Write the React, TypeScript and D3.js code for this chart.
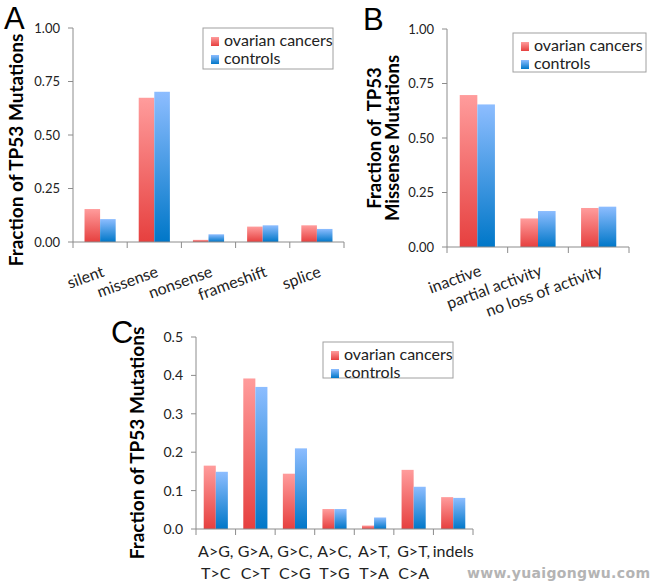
import React from "react";
import * as d3 from "d3";

const seriesNames = ["ovarian cancers", "controls"];

const catsA = ["silent", "missense", "nonsense", "frameshift", "splice"];
const ovarianA = [0.154, 0.674, 0.01, 0.072, 0.078];
const controlsA = [0.107, 0.702, 0.036, 0.078, 0.061];
const ticksA = [0, 0.25, 0.5, 0.75, 1];

const catsB = ["inactive", "partial activity", "no loss of activity"];
const ovarianB = [0.697, 0.131, 0.179];
const controlsB = [0.654, 0.165, 0.185];
const ticksB = [0, 0.25, 0.5, 0.75, 1];

const catsC = [["A>G,", "T>C"], ["G>A,", "C>T"], ["G>C,", "C>G"], ["A>C,", "T>G"], ["A>T,", "T>A"], ["G>T,", "C>A"], ["indels", ""]];
const ovarianC = [0.165, 0.392, 0.144, 0.052, 0.009, 0.154, 0.083];
const controlsC = [0.149, 0.37, 0.21, 0.052, 0.03, 0.11, 0.081];
const ticksC = [0, 0.1, 0.2, 0.3, 0.4, 0.5];

const FONT = "Lato, 'Open Sans', sans-serif";
const AXIS = "#8c8c8c";
const TXT = "#222";

type PanelProps = {
  id: string;
  cats: string[];
  catLabels: (string | string[])[];
  s1: number[];
  s2: number[];
  ticks: number[];
  fmt: string;
  x0: number; x1: number; yTop: number; yBottom: number;
  groupFrac: number;
  tickFont: number;
  labelMode: "rot" | "two";
  rotDy: number;
  legend: { x: number; y: number; w: number; h: number; fs: number };
};

function Panel(p: PanelProps) {
  const x = d3.scaleBand<string>().domain(p.cats).range([p.x0, p.x1]).paddingInner(0).paddingOuter(0);
  const y = d3.scaleLinear().domain([p.ticks[0], p.ticks[p.ticks.length - 1]]).range([p.yBottom, p.yTop]);
  const bw = x.bandwidth();
  const inner = d3.scaleBand<string>().domain(seriesNames).range([0, bw * p.groupFrac]);
  const off = (bw - bw * p.groupFrac) / 2;
  const f = d3.format(p.fmt);
  const boundaries = p.cats.map((c) => x(c) as number).concat([p.x1]);
  const vals = [p.s1, p.s2];
  const fills = ["url(#gradRed)", "url(#gradBlue)"];
  return (
    <g>
      {p.cats.map((c, i) =>
        vals.map((v, s) => (
          <rect key={c + s}
            x={(x(c) as number) + off + (inner(seriesNames[s]) as number)}
            y={y(v[i])}
            width={inner.bandwidth()}
            height={p.yBottom - y(v[i])}
            fill={fills[s]} />
        ))
      )}
      <line x1={p.x0} x2={p.x0} y1={p.yTop} y2={p.yBottom} stroke={AXIS} strokeWidth={1} />
      <line x1={p.x0} x2={p.x1} y1={p.yBottom} y2={p.yBottom} stroke={AXIS} strokeWidth={1} />
      {p.ticks.map((t) => (
        <g key={t}>
          <line x1={p.x0 - 5} x2={p.x0} y1={y(t)} y2={y(t)} stroke={AXIS} />
          <text x={p.x0 - 13} y={y(t)} dy="0.35em" textAnchor="end" fontSize={p.tickFont} fontFamily={FONT} fill={TXT}>{f(t)}</text>
        </g>
      ))}
      {boundaries.map((b, i) => (
        <line key={i} x1={b} x2={b} y1={p.yBottom} y2={p.yBottom + 6} stroke={AXIS} />
      ))}
      {p.cats.map((c, i) => {
        const cx = (x(c) as number) + bw / 2;
        const lab = p.catLabels[i];
        if (p.labelMode === "rot") {
          return (
            <text key={c} transform={`translate(${cx + 5},${p.yBottom + p.rotDy}) rotate(-20)`} textAnchor="end"
              fontSize={16} fontFamily={FONT} fill={TXT}>{lab as string}</text>
          );
        }
        const ls = lab as string[];
        return (
          <text key={c} textAnchor="middle" fontSize={16} fontFamily={FONT} fill={TXT}>
            <tspan x={cx} y={p.yBottom + 28}>{ls[0]}</tspan>
            <tspan x={cx} y={p.yBottom + 50}>{ls[1]}</tspan>
          </text>
        );
      })}
      <rect x={p.legend.x} y={p.legend.y} width={p.legend.w} height={p.legend.h} fill="#fff" stroke="#a0a0a0" strokeWidth={1} />
      {seriesNames.map((s, i) => (
        <g key={s}>
          <rect x={p.legend.x + 8} y={p.legend.y + 9 + i * 18} width={8} height={9} fill={fills[i]} />
          <text x={p.legend.x + 21} y={p.legend.y + 18 + i * 18} fontSize={p.legend.fs} fontFamily={FONT} fill={TXT}>{s}</text>
        </g>
      ))}
    </g>
  );
}

export default function App() {
  return (
    <svg width={653} height={584} style={{ position: "absolute", left: 0, top: 0, background: "#fff" }}>
      <defs>
        <linearGradient id="gradRed" x1="0" y1="0" x2="0" y2="1">
          <stop offset="0" stopColor="#ff9c9c" />
          <stop offset="1" stopColor="#e6403f" />
        </linearGradient>
        <linearGradient id="gradBlue" x1="0" y1="0" x2="0" y2="1">
          <stop offset="0" stopColor="#8dbdff" />
          <stop offset="1" stopColor="#0077c8" />
        </linearGradient>
      </defs>
      <rect x={0} y={0} width={653} height={584} fill="#fff" />

      <text x={4} y={29} fontSize={31} fontFamily="Arial, 'Liberation Sans', sans-serif" fill="#000">A</text>
      <text transform="translate(23,150) rotate(-90)" textAnchor="middle" fontSize={19} fontWeight={700} fontFamily={FONT} fill="#000">Fraction of TP53 Mutations</text>
      <Panel id="A" cats={catsA} catLabels={catsA} s1={ovarianA} s2={controlsA} ticks={ticksA} fmt=".2f"
        x0={73} x1={344} yTop={28} yBottom={242} groupFrac={0.575} tickFont={13} labelMode="rot" rotDy={34}
        legend={{ x: 203, y: 28, w: 130, h: 41, fs: 16 }} />

      <text x={363} y={30} fontSize={31} fontFamily="Arial, 'Liberation Sans', sans-serif" fill="#000">B</text>
      <text transform="translate(381,138) rotate(-90)" textAnchor="middle" fontSize={18.5} fontWeight={700} fontFamily={FONT} fill="#000" style={{ whiteSpace: "pre" }}>Fraction of  TP53</text>
      <text transform="translate(399,138) rotate(-90)" textAnchor="middle" fontSize={18.5} fontWeight={700} fontFamily={FONT} fill="#000">Missense Mutations</text>
      <Panel id="B" cats={catsB} catLabels={catsB} s1={ovarianB} s2={controlsB} ticks={ticksB} fmt=".2f"
        x0={447} x1={629} yTop={29} yBottom={247} groupFrac={0.58} tickFont={13} labelMode="rot" rotDy={28}
        legend={{ x: 513, y: 33, w: 133, h: 39, fs: 16 }} />

      <text x={111} y={343} fontSize={31} fontFamily="Arial, 'Liberation Sans', sans-serif" fill="#000">C</text>
      <text transform="translate(144,443) rotate(-90)" textAnchor="middle" fontSize={19} fontWeight={700} fontFamily={FONT} fill="#000">Fraction of TP53 Mutations</text>
      <Panel id="C" cats={catsC.map((c) => c.join(" "))} catLabels={catsC} s1={ovarianC} s2={controlsC} ticks={ticksC} fmt=".1f"
        x0={196} x1={473} yTop={337} yBottom={529} groupFrac={0.61} tickFont={14} labelMode="two" rotDy={0}
        legend={{ x: 323, y: 342, w: 130, h: 36, fs: 16 }} />

      <text x={467} y={578} fontSize={14} fontWeight={700} fontFamily="'DejaVu Sans', sans-serif" fill="#b4b4b4" textLength={183} lengthAdjust="spacing">www.yuaigongwu.com</text>
    </svg>
  );
}
